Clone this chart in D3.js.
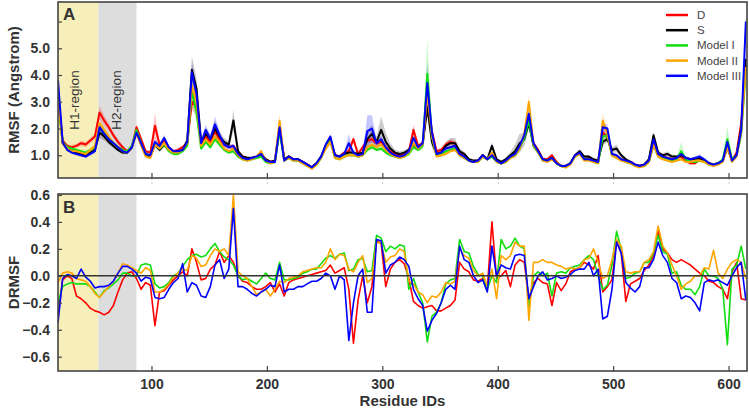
<!DOCTYPE html>
<html>
<head>
<meta charset="utf-8">
<script src="https://cdn.jsdelivr.net/npm/d3@7"></script>
<style>
  body { margin: 0; background: #fff; }
  svg { display: block; font-family: "Liberation Sans", Arial, sans-serif; }
</style>
</head>
<body>
<div id="chart"></div>
<script>
// --- Data (sampled every 4 residues, 19..615) ---
const residues = d3.range(19, 616, 4);

// RMSF (Angstrom), panel A
const rmsfD = [3.2,1.55,1.35,1.3,1.35,1.45,1.4,1.55,1.7,2.6, 2.3,2.05,1.75,1.5,1.3,1.15,1.3,2.05,1.6,1.15,
  1.1,2.1,1.4,1.55,1.3,1.15,1.2,1.3,1.45,3.0, 2.8,1.45,1.7,1.5,1.9,1.6,1.4,1.3,1.35,1.1,
  0.95,0.9,0.9,0.95,1.05,0.85,0.75,0.8,2.1,0.85, 0.95,0.85,0.85,0.75,0.65,0.55,0.7,0.95,1.35,1.6,
  1.0,0.95,1.1,1.15,1.6,1.05,1.3,1.55,1.6,1.45, 1.5,1.3,1.15,1.05,1.0,1.05,1.15,1.95,1.35,1.45,
  3.0,1.9,1.15,1.2,1.4,1.5,1.45,1.1,0.95,0.8, 0.75,0.8,1.0,0.85,1.0,0.8,0.7,0.8,0.95,1.05,
  1.3,1.7,2.4,1.45,1.2,0.85,0.85,1.0,0.75,0.6, 0.6,0.7,1.0,1.1,0.85,0.9,0.8,0.75,1.85,1.7,
  1.05,0.95,0.85,0.8,0.75,0.65,0.6,0.65,0.8,1.4, 1.0,0.95,0.9,0.85,0.9,0.95,0.8,0.7,0.7,0.85,
  0.8,0.7,0.65,0.7,0.8,1.3,0.8,1.1,2.2,4.4];
const rmsfS = [3.4,1.45,1.25,1.15,1.1,1.05,1.0,1.1,1.2,1.85, 1.7,1.5,1.35,1.2,1.1,1.1,1.3,1.85,1.4,1.0,
  0.95,1.4,1.2,1.4,1.2,1.1,1.15,1.2,1.55,4.2, 3.5,1.5,1.8,1.6,2.0,1.7,1.5,1.4,2.3,1.15,
  0.95,0.9,0.9,0.95,1.05,0.85,0.75,0.8,2.0,0.85, 0.95,0.85,0.85,0.75,0.65,0.55,0.7,0.95,1.35,1.6,
  1.0,0.95,1.05,1.1,1.1,1.05,1.1,1.6,1.8,1.5, 1.95,1.5,1.25,1.1,1.05,1.1,1.2,1.4,1.25,1.4,
  2.8,1.5,1.05,1.1,1.35,1.45,1.45,1.15,1.05,0.85, 0.8,0.8,1.0,0.85,1.35,0.85,0.75,0.85,1.0,1.15,
  1.45,1.6,2.2,1.35,1.15,0.85,0.8,0.9,0.7,0.6, 0.6,0.7,1.0,1.15,0.95,0.95,0.85,0.8,1.5,1.6,
  1.2,1.25,1.0,0.85,0.75,0.65,0.6,0.65,0.85,1.75, 1.1,1.0,1.05,0.95,0.95,1.0,0.9,0.85,0.85,0.9,
  0.8,0.7,0.65,0.7,0.8,1.3,0.8,1.0,2.0,4.6];
const rmsfM1 = [3.0,1.5,1.3,1.25,1.2,1.15,1.1,1.2,1.3,2.05, 1.85,1.65,1.45,1.3,1.2,1.15,1.35,1.95,1.45,1.05,
  1.0,1.45,1.25,1.4,1.15,1.05,1.05,1.15,1.35,3.4, 2.6,1.25,1.5,1.3,1.6,1.4,1.2,1.1,1.15,0.95,
  0.85,0.8,0.85,0.9,0.95,0.75,0.7,0.75,1.9,0.8, 0.9,0.8,0.8,0.7,0.6,0.55,0.65,0.9,1.3,1.55,
  0.9,0.85,0.95,1.0,1.0,0.95,1.0,1.2,1.3,1.2, 1.25,1.1,1.0,0.95,0.9,0.95,1.05,1.3,1.2,1.35,
  4.05,1.7,1.0,1.0,1.15,1.2,1.25,1.0,0.9,0.8, 0.75,0.75,0.95,0.85,0.95,0.75,0.7,0.75,0.9,1.0,
  1.25,1.65,2.3,1.35,1.1,0.8,0.8,0.9,0.7,0.6, 0.55,0.7,0.95,1.05,0.85,0.85,0.75,0.7,1.7,1.75,
  1.0,0.9,0.85,0.75,0.7,0.6,0.6,0.6,0.75,1.4, 0.95,0.9,0.85,0.8,0.85,1.15,0.85,0.75,0.75,0.8,
  0.75,0.65,0.65,0.7,0.85,1.6,0.85,1.0,1.8,4.2];
const rmsfM2 = [3.1,1.45,1.25,1.15,1.15,1.1,1.05,1.2,1.35,2.2, 1.95,1.7,1.45,1.3,1.15,1.1,1.3,1.8,1.4,0.95,
  0.9,1.4,1.25,1.45,1.2,1.1,1.1,1.2,1.45,3.6, 3.0,1.35,1.6,1.4,1.7,1.5,1.25,1.15,1.25,1.0,
  0.85,0.8,0.85,0.95,1.15,0.8,0.7,0.75,2.3,0.8, 0.9,0.8,0.8,0.7,0.6,0.5,0.65,0.9,1.25,1.5,
  0.9,0.85,0.95,1.0,1.0,0.95,1.0,1.3,1.4,1.3, 1.4,1.2,1.05,0.95,0.9,0.95,1.1,1.45,1.25,1.4,
  3.3,1.75,0.95,1.0,1.05,1.15,1.2,1.0,0.9,0.8, 0.75,0.75,0.95,0.85,1.1,0.75,0.7,0.75,0.9,1.0,
  1.25,1.8,3.0,1.4,1.1,0.8,0.75,0.85,0.7,0.6, 0.55,0.65,0.95,1.05,0.8,0.8,0.75,0.7,2.3,1.8,
  1.0,0.9,0.8,0.75,0.7,0.6,0.55,0.6,0.75,1.4, 0.95,0.85,0.8,0.75,0.8,0.85,0.75,0.75,0.8,0.8,
  0.75,0.65,0.6,0.65,0.75,1.3,0.75,0.95,1.9,4.3];
const rmsfM3 = [3.8,1.5,1.2,1.1,1.05,1.0,0.95,1.05,1.15,2.05, 1.8,1.6,1.45,1.3,1.15,1.1,1.3,1.85,1.45,1.05,
  1.0,1.5,1.35,1.65,1.3,1.15,1.15,1.2,1.5,4.1, 3.3,1.45,1.95,1.6,2.15,1.75,1.4,1.3,1.35,1.05,
  0.9,0.85,0.9,0.95,1.05,0.8,0.75,0.75,2.05,0.8, 0.95,0.85,0.85,0.75,0.65,0.55,0.7,0.95,1.4,1.7,
  1.0,0.95,1.05,1.45,1.1,1.0,1.05,1.9,2.0,1.45, 1.6,1.3,1.1,1.0,0.95,1.0,1.15,1.65,1.3,1.45,
  3.7,1.85,1.05,1.1,1.25,1.3,1.35,1.05,0.95,0.8, 0.75,0.8,1.0,0.85,1.0,0.8,0.7,0.8,0.95,1.05,
  1.35,1.75,2.55,1.45,1.15,0.85,0.8,0.9,0.7,0.6, 0.6,0.7,1.0,1.1,0.85,0.85,0.8,0.75,2.05,2.0,
  1.05,1.0,0.85,0.8,0.75,0.65,0.6,0.65,0.8,1.6, 1.05,0.95,0.9,0.85,0.9,1.05,0.9,0.85,0.9,0.95,
  0.85,0.7,0.65,0.7,0.8,1.5,0.8,1.0,1.95,6.0];

// spread of each RMSF curve (shaded band half-width)
const sdD = [0.3,0.1,0.06,0.08,0.08,0.1,0.1,0.1,0.12,0.25, 0.2,0.15,0.12,0.1,0.08,0.06,0.08,0.12,0.1,0.06,
  0.06,0.5,0.1,0.1,0.06,0.06,0.06,0.08,0.1,0.3, 0.3,0.1,0.12,0.1,0.15,0.1,0.08,0.08,0.08,0.06,
  0.05,0.05,0.05,0.05,0.06,0.05,0.05,0.05,0.15,0.05, 0.05,0.05,0.05,0.05,0.05,0.05,0.05,0.06,0.08,0.1,
  0.06,0.06,0.06,0.08,0.15,0.06,0.1,0.1,0.1,0.08, 0.1,0.08,0.06,0.06,0.06,0.06,0.08,0.2,0.08,0.1,
  0.3,0.15,0.08,0.08,0.1,0.1,0.1,0.06,0.05,0.05, 0.05,0.05,0.06,0.05,0.06,0.05,0.05,0.05,0.06,0.06,
  0.08,0.1,0.2,0.1,0.08,0.06,0.06,0.08,0.05,0.05, 0.05,0.05,0.06,0.06,0.05,0.05,0.05,0.05,0.15,0.1,
  0.06,0.06,0.05,0.05,0.05,0.05,0.05,0.05,0.05,0.1, 0.06,0.06,0.06,0.05,0.06,0.06,0.05,0.05,0.05,0.06,
  0.05,0.05,0.05,0.05,0.05,0.12,0.05,0.08,0.3,0.3];
const sdS = [0.4,0.1,0.06,0.06,0.06,0.06,0.06,0.06,0.08,0.2, 0.15,0.1,0.08,0.06,0.06,0.06,0.08,0.12,0.1,0.06,
  0.06,0.1,0.08,0.1,0.06,0.06,0.06,0.08,0.12,0.5, 0.4,0.15,0.2,0.2,0.3,0.2,0.15,0.12,0.4,0.08,
  0.06,0.06,0.06,0.06,0.08,0.06,0.05,0.05,0.15,0.05, 0.06,0.05,0.05,0.05,0.05,0.05,0.05,0.06,0.08,0.1,
  0.06,0.06,0.08,0.1,0.1,0.08,0.1,0.3,0.35,0.2, 0.5,0.35,0.2,0.12,0.1,0.1,0.1,0.12,0.1,0.12,
  0.3,0.2,0.1,0.1,0.15,0.2,0.2,0.12,0.08,0.06, 0.05,0.05,0.06,0.05,0.15,0.06,0.05,0.08,0.12,0.25,
  0.35,0.25,0.2,0.12,0.08,0.06,0.05,0.06,0.05,0.05, 0.05,0.05,0.06,0.08,0.06,0.06,0.05,0.05,0.12,0.12,
  0.1,0.15,0.08,0.06,0.05,0.05,0.05,0.05,0.06,0.15, 0.1,0.08,0.1,0.08,0.06,0.06,0.06,0.06,0.06,0.06,
  0.05,0.05,0.05,0.05,0.06,0.15,0.06,0.1,0.2,0.3];
const sdM1 = [0.3,0.08,0.06,0.06,0.06,0.06,0.06,0.06,0.08,0.15, 0.12,0.1,0.08,0.06,0.06,0.06,0.08,0.12,0.08,0.06,
  0.06,0.08,0.06,0.08,0.06,0.06,0.06,0.06,0.08,0.5, 0.3,0.08,0.1,0.08,0.1,0.08,0.06,0.06,0.06,0.05,
  0.05,0.05,0.05,0.05,0.05,0.05,0.05,0.05,0.12,0.05, 0.05,0.05,0.05,0.05,0.05,0.05,0.05,0.06,0.08,0.1,
  0.05,0.05,0.05,0.05,0.05,0.05,0.05,0.08,0.08,0.06, 0.08,0.06,0.05,0.05,0.05,0.05,0.06,0.08,0.06,0.15,
  1.3,0.4,0.06,0.06,0.06,0.06,0.06,0.05,0.05,0.05, 0.05,0.05,0.05,0.05,0.05,0.05,0.05,0.05,0.05,0.06,
  0.08,0.1,0.15,0.08,0.06,0.05,0.05,0.05,0.05,0.05, 0.05,0.05,0.05,0.06,0.05,0.05,0.05,0.05,0.12,0.12,
  0.06,0.05,0.05,0.05,0.05,0.05,0.05,0.05,0.05,0.1, 0.06,0.05,0.05,0.05,0.06,0.35,0.06,0.05,0.05,0.05,
  0.05,0.05,0.05,0.05,0.06,0.5,0.06,0.08,0.3,0.3];
const sdM2 = [0.3,0.08,0.06,0.06,0.06,0.06,0.06,0.06,0.08,0.15, 0.12,0.1,0.08,0.06,0.06,0.06,0.08,0.1,0.08,0.06,
  0.06,0.1,0.08,0.1,0.06,0.06,0.06,0.06,0.08,0.4, 0.3,0.1,0.12,0.1,0.12,0.1,0.08,0.06,0.08,0.05,
  0.05,0.05,0.05,0.06,0.1,0.05,0.05,0.05,0.3,0.05, 0.05,0.05,0.05,0.05,0.05,0.05,0.05,0.06,0.08,0.1,
  0.05,0.05,0.05,0.05,0.05,0.05,0.05,0.08,0.1,0.08, 0.1,0.08,0.06,0.05,0.05,0.05,0.06,0.1,0.06,0.1,
  0.3,0.15,0.06,0.06,0.06,0.06,0.06,0.05,0.05,0.05, 0.05,0.05,0.05,0.05,0.06,0.05,0.05,0.05,0.05,0.06,
  0.08,0.12,0.25,0.08,0.06,0.05,0.05,0.05,0.05,0.05, 0.05,0.05,0.05,0.06,0.05,0.05,0.05,0.05,0.3,0.12,
  0.06,0.05,0.05,0.05,0.05,0.05,0.05,0.05,0.05,0.1, 0.06,0.05,0.05,0.05,0.05,0.06,0.05,0.05,0.05,0.05,
  0.05,0.05,0.05,0.05,0.05,0.1,0.05,0.08,0.2,0.3];
const sdM3 = [0.4,0.08,0.06,0.06,0.06,0.06,0.06,0.06,0.08,0.15, 0.12,0.1,0.08,0.06,0.06,0.06,0.08,0.12,0.08,0.06,
  0.06,0.1,0.08,0.12,0.06,0.06,0.06,0.06,0.1,0.4, 0.3,0.1,0.2,0.15,0.3,0.15,0.1,0.08,0.08,0.05,
  0.05,0.05,0.05,0.05,0.06,0.05,0.05,0.05,0.15,0.05, 0.05,0.05,0.05,0.05,0.05,0.05,0.05,0.06,0.08,0.1,
  0.05,0.05,0.06,0.35,0.06,0.05,0.06,0.6,0.5,0.1, 0.12,0.08,0.06,0.05,0.05,0.05,0.06,0.1,0.06,0.1,
  0.8,0.2,0.06,0.06,0.06,0.08,0.08,0.05,0.05,0.05, 0.05,0.05,0.05,0.05,0.06,0.05,0.05,0.05,0.05,0.06,
  0.08,0.1,0.2,0.08,0.06,0.05,0.05,0.05,0.05,0.05, 0.05,0.05,0.05,0.06,0.05,0.05,0.05,0.05,0.15,0.15,
  0.06,0.06,0.05,0.05,0.05,0.05,0.05,0.05,0.05,0.12, 0.06,0.05,0.05,0.05,0.06,0.1,0.06,0.05,0.06,0.1,
  0.05,0.05,0.05,0.05,0.06,0.15,0.06,0.08,0.2,0.4];

// DRMSF, panel B
const drmsfD = [-0.30,-0.03,0.0,-0.02,-0.15,-0.17,-0.2,-0.24,-0.26,-0.27, -0.29,-0.27,-0.22,-0.12,-0.03,0.02,0.03,-0.02,-0.10,-0.05,
  -0.07,-0.37,-0.12,-0.11,-0.07,-0.03,0.0,0.03,0.0,0.2, 0.1,-0.03,-0.02,0.05,0.08,0.18,0.1,0.15,0.1,0.0,
  -0.04,-0.05,-0.08,-0.1,-0.1,-0.08,-0.05,-0.12,-0.06,-0.15, -0.05,-0.03,-0.02,-0.01,0.0,0.01,0.02,0.03,0.04,0.08,
  0.02,0.04,0.06,-0.1,-0.5,-0.18,0.0,-0.2,-0.08,0.26, 0.24,-0.08,0.05,0.1,0.12,0.09,-0.02,-0.19,-0.22,-0.24,
  -0.23,-0.22,-0.26,-0.26,-0.24,-0.22,-0.18,0.1,0.05,0.03, -0.03,-0.04,-0.02,-0.09,0.4,-0.02,0.0,0.04,-0.08,0.08,
  0.12,0.1,-0.17,-0.05,-0.02,-0.05,-0.06,-0.22,-0.05,-0.11, -0.06,0.03,0.05,0.06,0.1,0.08,0.05,0.15,-0.12,-0.08,
  -0.03,0.26,0.17,-0.19,-0.06,-0.04,-0.02,0.04,0.08,0.15, 0.33,0.2,0.17,0.12,0.1,0.12,0.1,0.08,0.05,0.02,
  0.0,-0.04,-0.05,-0.08,-0.1,-0.17,0.03,0.1,-0.17,-0.18];
const drmsfM1 = [-0.20,-0.08,-0.06,-0.05,-0.06,-0.06,-0.06,-0.08,-0.12,-0.16, -0.11,-0.09,-0.06,-0.03,0.02,0.02,0.0,0.0,0.08,0.09,
  0.08,-0.06,-0.09,-0.08,-0.05,0.0,0.02,0.07,0.12,0.15, 0.16,0.14,0.15,0.2,0.24,0.18,0.14,0.12,0.08,0.0,
  -0.03,-0.02,-0.04,-0.06,-0.02,0.02,-0.02,-0.03,0.1,-0.03, -0.03,-0.02,-0.01,0.02,0.03,0.05,0.05,0.09,0.13,0.15,
  0.13,0.16,0.17,0.04,0.05,0.12,0.13,0.03,0.04,0.3, 0.28,0.18,0.22,0.2,0.23,0.22,-0.1,-0.02,-0.12,-0.2,
  -0.49,-0.3,-0.27,-0.2,-0.06,-0.03,-0.02,0.27,0.18,0.17, 0.07,0.01,0.0,-0.1,0.0,-0.05,0.27,0.2,0.22,0.28,
  0.22,0.2,-0.23,0.0,0.03,0.0,0.02,-0.15,0.02,0.03, 0.02,0.06,0.07,0.08,0.12,0.15,0.12,0.0,-0.1,-0.07,
  0.08,0.33,0.2,-0.02,-0.01,0.02,0.03,0.1,0.1,0.17, 0.3,0.18,0.16,0.02,0.03,-0.07,-0.1,-0.1,-0.14,-0.08,
  0.05,0.0,0.0,-0.02,-0.1,-0.51,0.05,0.08,0.22,0.05];
const drmsfM2 = [-0.05,0.02,0.03,0.02,-0.02,-0.03,-0.04,-0.08,-0.13,-0.16, -0.12,-0.08,-0.04,0.02,0.09,0.08,0.06,0.04,0.02,0.06,
  0.04,-0.12,-0.12,-0.1,-0.06,-0.01,0.02,0.05,0.04,0.15, 0.13,0.07,0.08,0.15,0.2,0.18,0.2,0.15,0.6,0.03,
  0.0,-0.02,-0.08,-0.14,-0.12,-0.1,-0.15,-0.1,-0.04,-0.05, -0.02,-0.01,0.0,0.03,0.04,0.05,0.06,0.06,0.1,0.2,
  0.12,0.16,0.15,0.05,0.03,0.1,0.15,-0.05,-0.02,0.25, 0.24,0.1,0.14,0.15,0.2,0.18,-0.04,-0.06,-0.12,-0.14,
  -0.2,-0.15,-0.16,-0.12,-0.05,-0.06,-0.04,0.2,0.15,0.13, 0.04,0.0,0.02,-0.08,0.05,-0.17,0.15,0.12,0.15,0.25,
  0.22,0.22,-0.33,0.1,0.1,0.12,0.1,0.1,0.08,0.07, 0.05,0.06,0.05,0.06,0.12,0.13,0.2,0.1,-0.02,0.0,
  0.12,0.27,0.22,0.03,0.02,0.03,0.03,0.1,0.12,0.18, 0.37,0.22,0.17,0.08,0.0,-0.1,-0.06,-0.04,0.0,0.0,
  0.06,0.05,0.19,0.02,-0.02,0.05,0.1,0.12,0.1,-0.02];
const drmsfM3 = [-0.35,-0.02,0.01,0.0,-0.02,0.05,-0.01,-0.04,-0.09,-0.08, -0.08,-0.07,-0.04,0.02,0.07,0.07,0.05,0.02,-0.04,-0.01,
  -0.02,-0.16,-0.17,-0.16,-0.1,-0.05,-0.02,0.09,-0.12,-0.05, -0.07,-0.15,-0.16,-0.08,0.08,0.12,-0.02,0.05,0.5,-0.08,
  -0.08,-0.1,-0.13,-0.15,-0.12,-0.1,-0.07,-0.08,0.08,-0.12, -0.1,-0.1,-0.08,-0.08,-0.06,-0.04,-0.04,-0.02,0.02,0.0,
  -0.1,0.0,-0.03,-0.48,-0.2,0.0,0.05,-0.27,-0.27,0.27, 0.26,0.02,0.08,0.1,0.14,0.12,0.07,-0.1,-0.17,-0.22,
  -0.41,-0.33,-0.28,-0.2,-0.1,-0.07,-0.1,0.22,0.12,0.1, 0.0,-0.05,-0.03,-0.12,0.22,0.0,0.08,0.06,0.05,0.15,
  0.16,0.15,-0.17,-0.08,0.0,0.03,-0.03,-0.02,0.0,-0.02, -0.01,0.01,0.04,0.05,0.05,0.1,0.0,0.05,-0.32,-0.3,
  -0.1,0.25,0.17,-0.05,-0.09,-0.12,-0.08,0.06,0.06,0.12, 0.25,0.15,0.1,-0.02,-0.05,-0.17,-0.15,-0.16,-0.2,-0.26,
  -0.05,-0.03,-0.04,-0.03,-0.05,-0.07,0.0,0.06,0.1,-0.18];

const regions = [
  {label: 'H1-region', from: 19, to: 54, fill: '#f6efb9'},
  {label: 'H2-region', from: 54, to: 87, fill: '#dddddd'}
];
const xTicks = [100, 200, 300, 400, 500, 600];
const yTicksA = [1, 2, 3, 4, 5, 6];
const yTicksB = [-0.6, -0.4, -0.2, 0, 0.2, 0.4, 0.6];

const rmsfSeries = [
  {name: 'D', color: '#ff0000', values: rmsfD, sd: sdD},
  {name: 'S', color: '#000000', values: rmsfS, sd: sdS},
  {name: 'Model I', color: '#11dd11', values: rmsfM1, sd: sdM1},
  {name: 'Model II', color: '#ffa500', values: rmsfM2, sd: sdM2},
  {name: 'Model III', color: '#0000ff', values: rmsfM3, sd: sdM3}
];
const drmsfSeries = [
  {name: 'D', color: '#ff0000', values: drmsfD},
  {name: 'Model I', color: '#11dd11', values: drmsfM1},
  {name: 'Model II', color: '#ffa500', values: drmsfM2},
  {name: 'Model III', color: '#0000ff', values: drmsfM3}
];

// --- Layout ---
const width = 749, height = 410;
const left = 58, right = 747;
const A = {top: 2, bottom: 178};
const B = {top: 194, bottom: 371};
const axisColor = '#444', textColor = '#333';

const svg = d3.select('#chart').append('svg')
  .attr('width', width)
  .attr('height', height);

const x = d3.scaleLinear().domain([19, 616]).range([left, right]);
const yA = d3.scaleLinear().domain([0.15, 6.73]).range([A.bottom, A.top]);
const yB = d3.scaleLinear().domain([-0.706, 0.607]).range([B.bottom, B.top]);

const defs = svg.append('defs');
function panelBase(id, p) {
  defs.append('clipPath').attr('id', id)
    .append('rect')
    .attr('x', left).attr('y', p.top)
    .attr('width', right - left).attr('height', p.bottom - p.top);
  const g = svg.append('g').attr('clip-path', `url(#${id})`);
  regions.forEach(r => {
    g.append('rect')
      .attr('x', x(r.from)).attr('y', p.top)
      .attr('width', x(r.to) - x(r.from)).attr('height', p.bottom - p.top)
      .attr('fill', r.fill);
  });
  return g;
}

// --- Panel A ---
const gA = panelBase('clipA', A);
rmsfSeries.forEach(s => {
  const band = d3.area()
    .x((d, i) => x(residues[i]))
    .y0((d, i) => yA(s.values[i] - s.sd[i]))
    .y1((d, i) => yA(s.values[i] + s.sd[i]));
  gA.append('path')
    .datum(s.values)
    .attr('fill', s.color)
    .attr('fill-opacity', s.name === 'S' ? 0.2 : 0.22)
    .attr('d', band);
});
rmsfSeries.forEach(s => {
  const line = d3.line()
    .x((d, i) => x(residues[i]))
    .y(d => yA(d));
  gA.append('path')
    .datum(s.values)
    .attr('fill', 'none')
    .attr('stroke', s.color)
    .attr('stroke-width', 2)
    .attr('stroke-linejoin', 'round')
    .attr('d', line);
});

regions.forEach(r => {
  const cx = r.label === 'H1-region' ? 74 : 116;
  svg.append('text')
    .attr('transform', `translate(${cx},100) rotate(-90)`)
    .attr('text-anchor', 'middle')
    .attr('dominant-baseline', 'central')
    .attr('font-size', 13.5)
    .attr('fill', textColor)
    .text(r.label);
});

// --- Panel B ---
const gB = panelBase('clipB', B);
drmsfSeries.forEach(s => {
  const line = d3.line()
    .x((d, i) => x(residues[i]))
    .y(d => yB(d));
  gB.append('path')
    .datum(s.values)
    .attr('fill', 'none')
    .attr('stroke', s.color)
    .attr('stroke-width', 1.6)
    .attr('stroke-linejoin', 'round')
    .attr('d', line);
});
svg.append('line')
  .attr('x1', left).attr('x2', right)
  .attr('y1', yB(0)).attr('y2', yB(0))
  .attr('stroke', '#333').attr('stroke-width', 1.5);

// --- Axes ---
function styleAxis(g) {
  g.select('.domain').remove();
  g.selectAll('.tick line').attr('stroke', axisColor).attr('stroke-width', 1.2);
  g.selectAll('.tick text')
    .attr('fill', textColor)
    .attr('font-size', 14)
    .attr('font-weight', 'bold')
    .attr('font-family', '"Liberation Sans", Arial, sans-serif');
}
svg.append('g')
  .attr('transform', `translate(${left},0)`)
  .call(d3.axisLeft(yA).tickValues(yTicksA).tickSize(-4).tickPadding(8)
    .tickFormat(d => d < 6 ? d3.format('.1f')(d) : ''))
  .call(styleAxis);
svg.append('g')
  .attr('transform', `translate(0,${A.bottom})`)
  .call(d3.axisBottom(x).tickValues(xTicks).tickSize(-5).tickFormat(''))
  .call(styleAxis);
// faint outer tick stubs under panel A
svg.append('g')
  .attr('transform', `translate(0,${A.bottom})`)
  .call(d3.axisBottom(x).tickValues(xTicks).tickSize(7).tickFormat(''))
  .call(g => g.select('.domain').remove())
  .call(g => g.selectAll('.tick line').attr('stroke', '#c8c8c8').attr('stroke-dasharray', '2,2'));
svg.append('g')
  .attr('transform', `translate(${left},0)`)
  .call(d3.axisLeft(yB).tickValues(yTicksB).tickSize(-4).tickPadding(8)
    .tickFormat(d3.format('.1f')))
  .call(styleAxis);
svg.append('g')
  .attr('transform', `translate(0,${B.bottom})`)
  .call(d3.axisBottom(x).tickValues(xTicks).tickSize(-5).tickPadding(8))
  .call(styleAxis);

// frames
[A, B].forEach(p => {
  svg.append('rect')
    .attr('x', left).attr('y', p.top)
    .attr('width', right - left).attr('height', p.bottom - p.top)
    .attr('fill', 'none')
    .attr('stroke', axisColor)
    .attr('stroke-width', 1.6);
});

// panel letters
[['A', A.top + 18], ['B', B.top + 19]].forEach(([t, yy]) => {
  svg.append('text')
    .attr('x', 63).attr('y', yy)
    .attr('font-size', 17).attr('font-weight', 'bold')
    .attr('fill', textColor)
    .text(t);
});

// axis titles
svg.append('text')
  .attr('transform', `translate(13,${(A.top + A.bottom) / 2}) rotate(-90)`)
  .attr('text-anchor', 'middle').attr('dominant-baseline', 'central')
  .attr('font-size', 15).attr('font-weight', 'bold').attr('fill', textColor)
  .text('RMSF (Angstrom)');
svg.append('text')
  .attr('transform', `translate(13,${(B.top + B.bottom) / 2}) rotate(-90)`)
  .attr('text-anchor', 'middle').attr('dominant-baseline', 'central')
  .attr('font-size', 15).attr('font-weight', 'bold').attr('fill', textColor)
  .text('DRMSF');
svg.append('text')
  .attr('x', (left + right) / 2).attr('y', 406)
  .attr('text-anchor', 'middle')
  .attr('font-size', 15).attr('font-weight', 'bold').attr('fill', textColor)
  .text('Residue IDs');

// legend
const legend = svg.append('g').attr('transform', 'translate(666,15)');
rmsfSeries.forEach((s, i) => {
  const row = legend.append('g').attr('transform', `translate(0,${i * 15.2})`);
  row.append('line')
    .attr('x1', 0).attr('x2', 22)
    .attr('stroke', s.color).attr('stroke-width', 2.5);
  row.append('text')
    .attr('x', 31).attr('dy', '0.35em')
    .attr('font-size', 11.5).attr('fill', '#444')
    .text(s.name);
});
</script>
</body>
</html>
